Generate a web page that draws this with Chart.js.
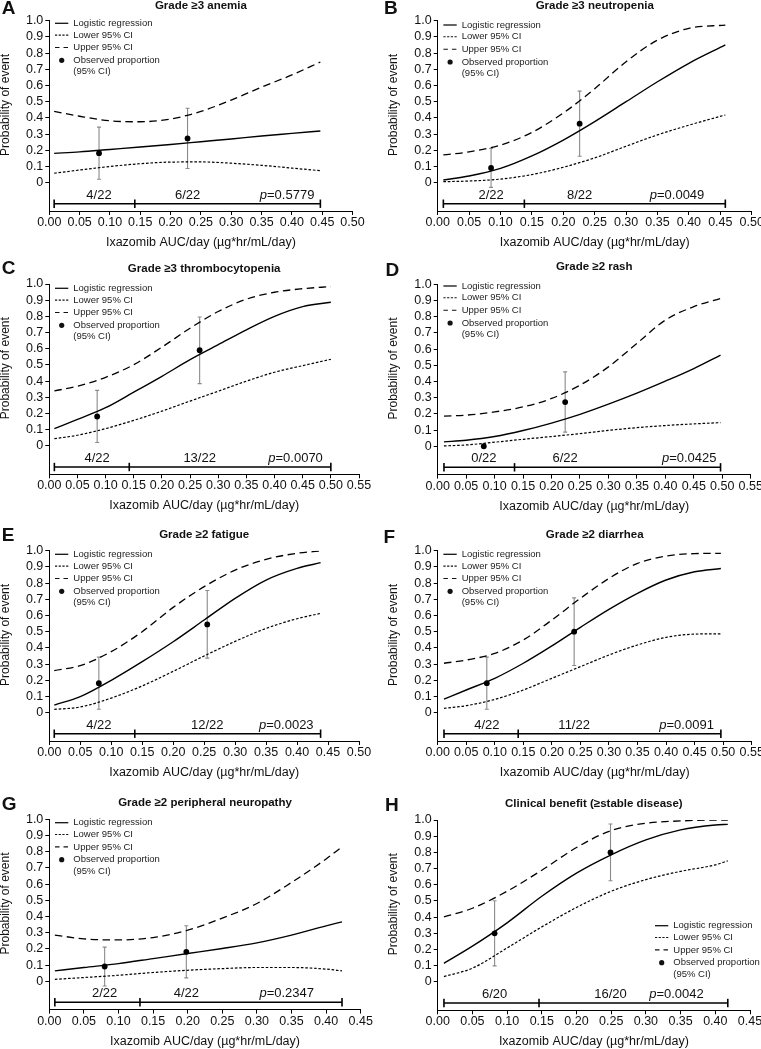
<!DOCTYPE html>
<html><head><meta charset="utf-8">
<script src="https://cdn.jsdelivr.net/npm/chart.js@4.4.1/dist/chart.umd.min.js"></script>
<style>
html,body{margin:0;padding:0;background:#fff;}
body{width:761px;height:1049px;position:relative;overflow:hidden;}
canvas{position:absolute;}
</style></head><body>
<canvas id="c0"></canvas><canvas id="c1"></canvas><canvas id="c2"></canvas><canvas id="c3"></canvas>
<canvas id="c4"></canvas><canvas id="c5"></canvas><canvas id="c6"></canvas><canvas id="c7"></canvas>
<script>
const FONT = "'Liberation Sans', Arial, Helvetica, sans-serif";

// ---------- tick labels ----------
const yTickValues = [0, 0.1, 0.2, 0.3, 0.4, 0.5, 0.6, 0.7, 0.8, 0.9, 1.0];
const yTickLabels = ['0', '0.1', '0.2', '0.3', '0.4', '0.5', '0.6', '0.7', '0.8', '0.9', '1.0'];
const xTicks045 = ['0.00','0.05','0.10','0.15','0.20','0.25','0.30','0.35','0.40','0.45'];
const xTicks050 = ['0.00','0.05','0.10','0.15','0.20','0.25','0.30','0.35','0.40','0.45','0.50'];
const xTicks055 = ['0.00','0.05','0.10','0.15','0.20','0.25','0.30','0.35','0.40','0.45','0.50','0.55'];

// ---------- A: Grade >=3 anemia ----------
const xA   = [0.008,0.05,0.10,0.15,0.20,0.25,0.30,0.35,0.40,0.447];
const fitA = [0.181,0.190,0.205,0.220,0.236,0.253,0.270,0.288,0.304,0.319];
const lowA = [0.058,0.078,0.100,0.117,0.127,0.128,0.120,0.107,0.090,0.074];
const upA  = [0.440,0.410,0.382,0.376,0.393,0.440,0.510,0.590,0.665,0.745];
const obsXA = [0.082,0.228], obsYA = [0.182,0.273], obsLoA = [0.021,0.087], obsHiA = [0.343,0.459];
const binA = [0.008,0.141,0.447], nA = ['4/22','6/22'], pA = '0.5779';

// ---------- B: Grade >=3 neutropenia ----------
const xB   = [0.009,0.05,0.10,0.15,0.20,0.25,0.30,0.35,0.40,0.458];
const fitB = [0.016,0.041,0.088,0.165,0.263,0.377,0.500,0.623,0.737,0.850];
const lowB = [0.006,0.010,0.022,0.050,0.095,0.153,0.225,0.295,0.355,0.418];
const upB  = [0.171,0.190,0.232,0.310,0.430,0.580,0.747,0.880,0.953,0.973];
const obsXB = [0.085,0.226], obsYB = [0.091,0.364], obsLoB = [-0.029,0.163], obsHiB = [0.211,0.565];
const binB = [0.009,0.138,0.458], nB = ['2/22','8/22'], pB = '0.0049';

// ---------- C: Grade >=3 thrombocytopenia ----------
const xC   = [0.009,0.05,0.10,0.15,0.20,0.25,0.30,0.35,0.40,0.45,0.50];
const fitC = [0.107,0.164,0.236,0.332,0.430,0.533,0.625,0.717,0.800,0.860,0.887];
const lowC = [0.045,0.066,0.107,0.158,0.215,0.277,0.338,0.400,0.455,0.496,0.535];
const upC  = [0.340,0.369,0.424,0.502,0.610,0.727,0.830,0.906,0.949,0.971,0.984];
const obsXC = [0.085,0.267], obsYC = [0.182,0.591], obsLoC = [0.021,0.385], obsHiC = [0.343,0.796];
const binC = [0.009,0.142,0.500], nC = ['4/22','13/22'], pC = '0.0070';

// ---------- D: Grade >=2 rash ----------
const xD   = [0.011,0.05,0.10,0.15,0.20,0.25,0.30,0.35,0.40,0.45,0.497];
const fitD = [0.027,0.037,0.060,0.097,0.143,0.197,0.260,0.328,0.402,0.480,0.563];
const lowD = [0.002,0.008,0.025,0.043,0.060,0.078,0.098,0.115,0.128,0.138,0.146];
const upD  = [0.186,0.192,0.212,0.243,0.295,0.377,0.490,0.635,0.779,0.862,0.913];
const obsXD = [0.081,0.224], obsYD = [0.000,0.273], obsLoD = [0.000,0.087], obsHiD = [0.000,0.459];
const binD = [0.011,0.135,0.497], nD = ['0/22','6/22'], pD = '0.0425';

// ---------- E: Grade >=2 fatigue ----------
const xE   = [0.008,0.05,0.10,0.15,0.20,0.25,0.30,0.35,0.40,0.438];
const fitE = [0.047,0.099,0.200,0.315,0.438,0.572,0.706,0.819,0.891,0.926];
const lowE = [0.020,0.035,0.090,0.165,0.255,0.350,0.440,0.520,0.580,0.613];
const upE  = [0.260,0.290,0.377,0.500,0.650,0.778,0.880,0.947,0.984,0.998];
const obsXE = [0.080,0.255], obsYE = [0.182,0.545], obsLoE = [0.021,0.337], obsHiE = [0.343,0.754];
const binE = [0.008,0.138,0.438], nE = ['4/22','12/22'], pE = '0.0023';

// ---------- F: Grade >=2 diarrhea ----------
const xF   = [0.011,0.05,0.10,0.15,0.20,0.25,0.30,0.35,0.40,0.45,0.496];
const fitF = [0.084,0.140,0.212,0.305,0.412,0.527,0.638,0.737,0.819,0.870,0.890];
const lowF = [0.027,0.043,0.082,0.140,0.212,0.284,0.356,0.418,0.465,0.485,0.487];
const upF  = [0.305,0.325,0.366,0.449,0.572,0.706,0.829,0.922,0.967,0.982,0.984];
const obsXF = [0.086,0.239], obsYF = [0.182,0.500], obsLoF = [0.021,0.291], obsHiF = [0.343,0.709];
const binF = [0.011,0.141,0.496], nF = ['4/22','11/22'], pF = '0.0091';

// ---------- G: Grade >=2 peripheral neuropathy ----------
const xG   = [0.008,0.05,0.10,0.15,0.20,0.25,0.30,0.35,0.40,0.423];
const fitG = [0.064,0.085,0.109,0.140,0.171,0.202,0.237,0.285,0.342,0.367];
const lowG = [0.012,0.023,0.037,0.054,0.068,0.078,0.085,0.085,0.075,0.064];
const upG  = [0.285,0.262,0.255,0.270,0.315,0.390,0.480,0.610,0.755,0.830];
const obsXG = [0.080,0.198], obsYG = [0.091,0.182], obsLoG = [-0.029,0.021], obsHiG = [0.211,0.343];
const binG = [0.008,0.131,0.423], nG = ['2/22','4/22'], pG = '0.2347';

// ---------- H: Clinical benefit ----------
const xH   = [0.009,0.05,0.10,0.15,0.20,0.25,0.30,0.35,0.40,0.418];
const fitH = [0.115,0.221,0.365,0.529,0.672,0.785,0.877,0.939,0.969,0.973];
const lowH = [0.033,0.085,0.210,0.340,0.460,0.560,0.632,0.683,0.723,0.748];
const upH  = [0.402,0.455,0.560,0.690,0.830,0.935,0.980,0.994,1.000,1.000];
const obsXH = [0.082,0.249], obsYH = [0.300,0.800], obsLoH = [0.099,0.625], obsHiH = [0.501,0.975];
const binH = [0.009,0.146,0.418], nH = ['6/20','16/20'], pH = '0.0042';

const panelLetters = ['A','B','C','D','E','F','G','H'];
const panelTitles = ['Grade \u22653 anemia','Grade \u22653 neutropenia','Grade \u22653 thrombocytopenia','Grade \u22652 rash',
  'Grade \u22652 fatigue','Grade \u22652 diarrhea','Grade \u22652 peripheral neuropathy','Clinical benefit (\u2265stable disease)'];
const legendLabels = ['Logistic regression','Lower 95% CI','Upper 95% CI','Observed proportion','(95% CI)'];
const xTitle = 'Ixazomib AUC/day (\u00b5g*hr/mL/day)';
const yTitle = 'Probability of event';

const panels = [
  {xMax:0.50, xTicks:xTicks050, x:xA, fit:fitA, low:lowA, up:upA, ox:obsXA, oy:obsYA, olo:obsLoA, ohi:obsHiA, bins:binA, n:nA, p:pA},
  {xMax:0.50, xTicks:xTicks050, x:xB, fit:fitB, low:lowB, up:upB, ox:obsXB, oy:obsYB, olo:obsLoB, ohi:obsHiB, bins:binB, n:nB, p:pB},
  {xMax:0.55, xTicks:xTicks055, x:xC, fit:fitC, low:lowC, up:upC, ox:obsXC, oy:obsYC, olo:obsLoC, ohi:obsHiC, bins:binC, n:nC, p:pC},
  {xMax:0.55, xTicks:xTicks055, x:xD, fit:fitD, low:lowD, up:upD, ox:obsXD, oy:obsYD, olo:obsLoD, ohi:obsHiD, bins:binD, n:nD, p:pD},
  {xMax:0.50, xTicks:xTicks050, x:xE, fit:fitE, low:lowE, up:upE, ox:obsXE, oy:obsYE, olo:obsLoE, ohi:obsHiE, bins:binE, n:nE, p:pE},
  {xMax:0.55, xTicks:xTicks055, x:xF, fit:fitF, low:lowF, up:upF, ox:obsXF, oy:obsYF, olo:obsLoF, ohi:obsHiF, bins:binF, n:nF, p:pF},
  {xMax:0.45, xTicks:xTicks045, x:xG, fit:fitG, low:lowG, up:upG, ox:obsXG, oy:obsYG, olo:obsLoG, ohi:obsHiG, bins:binG, n:nG, p:pG},
  {xMax:0.45, xTicks:xTicks045, x:xH, fit:fitH, low:lowH, up:upH, ox:obsXH, oy:obsYH, olo:obsLoH, ohi:obsHiH, bins:binH, n:nH, p:pH}
];

// ---------- layout (pixels, canvas-local) ----------
const layouts = [
  {left:0,   top:0,   w:380, h:260, cl:49.3, cr:352.5, ct:20.7, lx:1.7, ly:8.3,  ty:5.5,  leg:'tl', legY:23.3, pInset:6},
  {left:380, top:0,   w:381, h:260, cl:57.7, cr:371.7, ct:20.7, lx:4.0, ly:9,    ty:5.5,  leg:'tl', legY:25,   pInset:21},
  {left:0,   top:260, w:380, h:260, cl:49.3, cr:359,   ct:24,   lx:1.7, ly:8.3,  ty:9,    leg:'tl', legY:28.3, pInset:8},
  {left:380, top:260, w:381, h:260, cl:57.7, cr:370.7, ct:24.3, lx:5.5, ly:10.3, ty:7.3,  leg:'tl', legY:26,   pInset:4},
  {left:0,   top:520, w:380, h:260, cl:49.3, cr:359,   ct:30.7, lx:1.7, ly:16,   ty:15,   leg:'tl', legY:34.3, pInset:7},
  {left:380, top:520, w:381, h:260, cl:57.7, cr:371.7, ct:30.7, lx:3.5, ly:18,   ty:15,   leg:'tl', legY:34.3, pInset:7},
  {left:0,   top:780, w:380, h:269, cl:49.3, cr:360.7, ct:39.3, lx:1.7, ly:25,   ty:23.3, leg:'tl', legY:42.7, pInset:28},
  {left:380, top:780, w:381, h:269, cl:57.7, cr:370,   ct:40,   lx:5.0, ly:25.5, ty:24,   leg:'br', legY:145.7, pInset:24}
];
const PLOT_H = 190.3;
const Y_MIN = -0.175, BRACKET_Y = -0.13, COUNT_Y = -0.077;

function pts(xs, ys) { return xs.map((v, i) => ({x: v, y: ys[i]})); }

function makeDecor(P, L, idx) {
  return {
    id: 'decor' + idx,
    beforeDatasetsDraw(chart) {
      const {ctx, scales: {x, y}} = chart;
      ctx.save();
      ctx.strokeStyle = '#8a8a8a';
      ctx.lineWidth = 1.1;
      P.ox.forEach((xv, i) => {
        if (P.ohi[i] === P.olo[i]) return;
        const px = x.getPixelForValue(xv);
        const y1 = y.getPixelForValue(P.olo[i]), y2 = y.getPixelForValue(P.ohi[i]);
        ctx.beginPath();
        ctx.moveTo(px, y1); ctx.lineTo(px, y2);
        ctx.moveTo(px - 2, y1); ctx.lineTo(px + 2, y1);
        ctx.moveTo(px - 2, y2); ctx.lineTo(px + 2, y2);
        ctx.stroke();
      });
      ctx.restore();
    },
    afterDraw(chart) {
      const {ctx, chartArea: ca, scales: {x, y}} = chart;
      ctx.save();
      ctx.fillStyle = '#111';
      ctx.font = 'bold 19px ' + FONT;
      ctx.textAlign = 'left'; ctx.textBaseline = 'middle';
      ctx.fillText(panelLetters[idx], L.lx, L.ly);
      ctx.font = 'bold 11.5px ' + FONT;
      ctx.textAlign = 'center';
      ctx.fillText(panelTitles[idx], (ca.left + ca.right) / 2, L.ty);
      ctx.font = '12.5px ' + FONT;
      ctx.fillText(xTitle, (ca.left + ca.right) / 2, ca.bottom + 31.5);
      ctx.save();
      ctx.translate(ca.left - 44, y.getPixelForValue(0.48));
      ctx.rotate(-Math.PI / 2);
      ctx.font = '12px ' + FONT;
      ctx.fillText(yTitle, 0, 0);
      ctx.restore();
      ctx.font = '13px ' + FONT;
      const cy = y.getPixelForValue(COUNT_Y);
      P.n.forEach((t, i) => ctx.fillText(t, x.getPixelForValue(P.ox[i]), cy));
      const rest = '=' + P.p;
      const wRest = ctx.measureText(rest).width;
      ctx.font = 'italic 13px ' + FONT;
      const wp = ctx.measureText('p').width;
      const right = x.getPixelForValue(P.bins[2]) - L.pInset;
      ctx.textAlign = 'left';
      ctx.fillText('p', right - wRest - wp, cy);
      ctx.font = '13px ' + FONT;
      ctx.fillText(rest, right - wRest, cy);
      let x0, y0 = L.legY;
      if (L.leg === 'tl') x0 = ca.left + 5.7; else x0 = ca.right - 95;
      const rows = [0, 11.8, 24.2, 37, 48.3];
      ctx.strokeStyle = '#111';
      ctx.lineWidth = 1.3;
      ctx.setLineDash([]);
      ctx.beginPath(); ctx.moveTo(x0, y0 + rows[0]); ctx.lineTo(x0 + 13.3, y0 + rows[0]); ctx.stroke();
      ctx.lineWidth = 1.1;
      ctx.setLineDash([2.2, 1.5]);
      ctx.beginPath(); ctx.moveTo(x0, y0 + rows[1]); ctx.lineTo(x0 + 13.3, y0 + rows[1]); ctx.stroke();
      ctx.setLineDash([4.5, 4]);
      ctx.beginPath(); ctx.moveTo(x0, y0 + rows[2]); ctx.lineTo(x0 + 13.3, y0 + rows[2]); ctx.stroke();
      ctx.setLineDash([]);
      ctx.beginPath(); ctx.arc(x0 + 6.7, y0 + rows[3], 2.6, 0, Math.PI * 2); ctx.fill();
      ctx.font = '9.5px ' + FONT;
      ctx.fillStyle = '#222';
      ctx.textAlign = 'left'; ctx.textBaseline = 'middle';
      legendLabels.forEach((t, i) => ctx.fillText(t, x0 + 18.3, y0 + rows[i]));
      ctx.restore();
    }
  };
}

Chart.defaults.font.family = FONT;
Chart.defaults.color = '#111';

panels.forEach((P, idx) => {
  const L = layouts[idx];
  const cv = document.getElementById('c' + idx);
  cv.width = L.w; cv.height = L.h;
  cv.style.left = L.left + 'px'; cv.style.top = L.top + 'px';
  cv.style.width = L.w + 'px'; cv.style.height = L.h + 'px';
  const cb = L.ct + PLOT_H;
  new Chart(cv, {
    type: 'line',
    data: {
      datasets: [
        {data: pts(P.ox, P.oy), showLine: false, pointRadius: 2.9, pointBackgroundColor: '#000', pointBorderColor: '#000', pointBorderWidth: 0},
        {data: pts(P.x, P.fit), borderColor: '#000', borderWidth: 1.4, pointRadius: 0, cubicInterpolationMode: 'monotone', fill: false},
        {data: pts(P.x, P.low), borderColor: '#000', borderWidth: 1.2, borderDash: [2.6, 1.8], pointRadius: 0, cubicInterpolationMode: 'monotone', fill: false},
        {data: pts(P.x, P.up), borderColor: '#000', borderWidth: 1.3, borderDash: [7.5, 4.5], pointRadius: 0, cubicInterpolationMode: 'monotone', fill: false},
        {data: P.bins.map(v => ({x: v, y: BRACKET_Y})), borderColor: '#000', borderWidth: 1.6, tension: 0,
         pointStyle: 'line', pointRotation: 90, pointRadius: 4.2, pointBorderWidth: 1.6, pointBorderColor: '#000', fill: false, clip: false}
      ]
    },
    options: {
      responsive: false, animation: false,
      layout: {padding: {left: 0, top: L.ct, right: L.w - L.cr, bottom: 0}},
      plugins: {legend: {display: false}, tooltip: {enabled: false}, title: {display: false}},
      scales: {
        x: {
          type: 'linear', position: 'bottom', min: 0, max: P.xMax,
          afterBuildTicks: s => { s.ticks = P.xTicks.map(t => ({value: parseFloat(t)})); },
          ticks: {callback: (v, i) => P.xTicks[i], autoSkip: false, maxRotation: 0, minRotation: 0, padding: 0,
                  font: {size: 12.5}, color: '#111'},
          grid: {display: true, drawOnChartArea: false, drawTicks: true, tickLength: 4, color: '#000', lineWidth: 1},
          border: {display: true, color: '#000', width: 1},
          afterFit: s => { s.height = L.h - cb; s.paddingLeft = 0; s.paddingRight = 0; }
        },
        y: {
          type: 'linear', position: 'left', min: Y_MIN, max: 1.0,
          afterBuildTicks: s => { s.ticks = yTickValues.map(v => ({value: v})); },
          ticks: {callback: (v, i) => yTickLabels[i], autoSkip: false, padding: 2, font: {size: 12.5}, color: '#111'},
          grid: {display: true, drawOnChartArea: false, drawTicks: true, tickLength: 4, color: '#000', lineWidth: 1},
          border: {display: true, color: '#000', width: 1},
          afterFit: s => { s.width = L.cl; s.paddingTop = 0; s.paddingBottom = 0; }
        }
      }
    },
    plugins: [makeDecor(P, L, idx)]
  });
});
</script>
</body></html>
